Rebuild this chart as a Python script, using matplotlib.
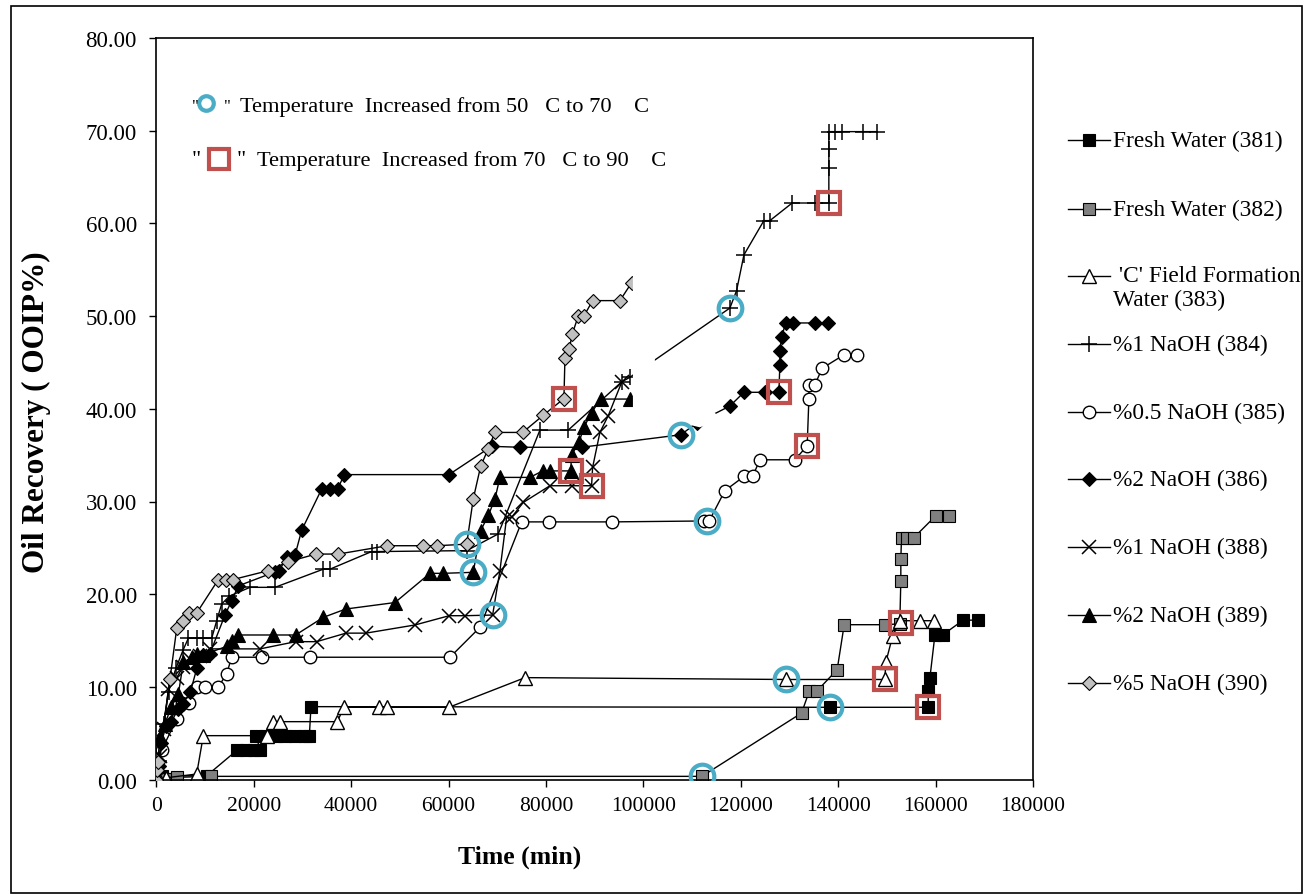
import matplotlib
matplotlib.use("Agg")
import matplotlib.pyplot as plt
from matplotlib.lines import Line2D
from matplotlib.patches import Rectangle, Polygon

plt.rcParams['font.family'] = ['Liberation Serif', 'DejaVu Serif']

# ---------------- data (time in min, recovery in % OOIP) ----------------
t381 = [0, 1090, 10330, 16600, 18300, 20100, 21300, 20500, 22500, 24500, 26500, 28500, 30500, 31400,
        31740, 138260, 158470, 158500, 158820, 159860, 161430, 165660, 168610]
r381 = [0, 0.4, 0.42, 3.19, 3.19, 3.19, 3.19, 4.67, 4.67, 4.67, 4.67, 4.67, 4.67, 4.67,
        7.87, 7.8, 7.8, 9.59, 10.93, 15.6, 15.6, 17.2, 17.2]

t382 = [0, 1500, 2800, 4300, 11300, 112000, 132480, 134040, 135560, 139790, 141230, 149580, 152650,
        152860, 152860, 153000, 154030, 155530, 160050, 162720]
r382 = [0, 0.1, 0.05, 0.25, 0.35, 0.35, 7.18, 9.52, 9.52, 11.86, 16.71, 16.71, 16.8,
        21.46, 23.8, 26.1, 26.1, 26.1, 28.47, 28.47]

t383 = [0, 2000, 8270, 9630, 22640, 24000, 25380, 37140, 38510, 45700, 47280, 60070, 75700, 129300,
        149580, 149780, 151160, 152650, 156770, 159700]
r383 = [0, 0.2, 0.6, 4.74, 4.74, 6.25, 6.25, 6.25, 7.8, 7.8, 7.8, 7.8, 11.0, 10.8,
        10.8, 12.65, 15.46, 17.14, 17.14, 17.14]

t384 = [0, 500, 1500, 2500, 4000, 5500, 6550, 8270, 9640, 11350, 12380, 13400, 15000, 19220, 24350,
        34270, 35640, 44200, 45370, 63710, 70190, 78750, 84560, 95530, 97230, 117760, 119130, 120640,
        124740, 125970, 130550, 135210, 138080, 138080, 138080, 138080, 139320, 140690, 145130, 148000]
r384 = [0, 2.0, 6.0, 9.5, 12.0, 14.0, 15.24, 15.24, 15.24, 15.24, 17.14, 18.94, 19.8, 20.74, 20.74,
        22.7, 22.7, 24.6, 24.6, 24.7, 26.5, 37.7, 37.7, 42.9, 43.4, 50.87, 52.74, 56.6,
        60.3, 60.3, 62.2, 62.2, 62.2, 65.94, 68.0, 69.9, 69.9, 69.9, 69.9, 69.9]

t385 = [0, 1100, 4170, 5190, 6760, 8270, 9980, 12710, 14420, 15460, 21620, 31600, 60280, 66440, 75000,
        80600, 93470, 112500, 113500, 116740, 120640, 122420, 123920, 131100, 133630, 133980, 134040,
        135210, 136710, 141220, 143830]
r385 = [0, 3.2, 6.54, 8.3, 8.3, 10.0, 10.0, 10.0, 11.4, 13.2, 13.2, 13.2, 13.2, 16.43, 27.8,
        27.8, 27.8, 27.9, 27.9, 31.17, 32.7, 32.7, 34.5, 34.5, 36.0, 41.06, 42.6,
        42.6, 44.37, 45.84, 45.84]

t386 = [0, 500, 1000, 2000, 3000, 4500, 5500, 7000, 8300, 9600, 11000, 14080, 15460, 16830, 24350,
        25170, 26750, 28460, 29830, 33940, 35640, 37220, 38575, 60070, 68840, 74650, 87310, 107700,
        111000, 117760, 120640, 124950, 127820, 128020, 128020, 128370, 129200, 130760, 135200, 137940]
r386 = [0, 1.5, 4.0, 5.8, 6.2, 7.6, 8.2, 9.5, 12.0, 13.4, 13.6, 17.75, 19.3, 20.9, 22.4,
        22.5, 23.98, 24.2, 26.9, 31.35, 31.35, 31.35, 32.9, 32.9, 35.95, 35.85, 35.85, 37.2,
        38.5, 40.3, 41.78, 41.78, 41.78, 44.72, 46.2, 47.7, 49.26, 49.26, 49.26, 49.26]

t388 = [0, 800, 1500, 2460, 4170, 5500, 7000, 9000, 11000, 21270, 28590, 32910, 38930, 43030, 53090,
        60130, 63360, 69040, 70540, 71920, 72940, 75340, 80810, 85260, 89360, 89570, 91070, 92780, 95530]
r388 = [0, 2.5, 5.5, 9.77, 11.0, 12.2, 13.0, 13.3, 14.1, 14.1, 14.88, 14.88, 15.8, 15.8, 16.68,
        17.68, 17.68, 17.75, 22.54, 28.3, 28.3, 29.9, 31.7, 31.7, 31.7, 33.68, 37.45, 39.25, 42.85]

t389 = [0, 700, 1770, 3000, 4500, 5530, 7240, 8270, 9640, 14430, 15460, 16820, 24000, 28590, 34270,
        38870, 48990, 56170, 58780, 65060, 66580, 68160, 69530, 70540, 76700, 79310, 80810, 85060,
        85260, 86820, 87780, 89360, 91210, 97230]
r389 = [0, 4.6, 6.0, 7.8, 9.2, 12.65, 13.19, 13.55, 13.45, 14.38, 15.0, 15.6, 15.6, 15.6, 17.5,
        18.4, 19.1, 22.25, 22.25, 22.36, 26.86, 28.5, 30.3, 32.6, 32.6, 33.3, 33.3, 33.3,
        35.0, 36.46, 38.0, 39.6, 41.05, 41.05]

t390 = [0, 100, 400, 2790, 4170, 5540, 6760, 8270, 12710, 14280, 15650, 22980, 27080, 32770, 37340,
        47400, 54670, 57670, 63710, 65060, 66580, 68160, 69510, 75210, 79430, 83680, 83890, 84780,
        85390, 86620, 87780, 89570, 95180, 97580]
r390 = [0, 1.0, 1.9, 10.85, 16.3, 17.14, 17.97, 17.97, 21.57, 21.57, 21.57, 22.54, 23.5, 24.33, 24.33,
        25.23, 25.23, 25.23, 25.4, 30.27, 33.8, 35.7, 37.45, 37.45, 39.3, 41.1, 45.44, 46.44,
        48.06, 50.0, 50.0, 51.67, 51.67, 53.6]

# temperature step markers
circ_t = [112000, 138260, 129300, 117760, 113000, 107700, 69040, 65060, 63710]   # 50 -> 70 C
circ_v = [0.35, 7.8, 10.8, 50.87, 27.9, 37.2, 17.75, 22.36, 25.4]
sq_t = [158470, 152860, 149580, 138080, 133630, 127820, 89360, 85060, 83680]     # 70 -> 90 C
sq_v = [7.8, 16.9, 10.8, 62.2, 36.0, 41.78, 31.7, 33.3, 41.1]

series_names = ['381', '382', '383', '384', '385', '386', '388', '389', '390']
legend_labels = ['Fresh Water (381)', 'Fresh Water (382)', " 'C' Field Formation\nWater (383)",
                 '%1 NaOH (384)', '%0.5 NaOH (385)', '%2 NaOH (386)', '%1 NaOH (388)',
                 '%2 NaOH (389)', '%5 NaOH (390)']
series_data = {'381': (t381, r381), '382': (t382, r382), '383': (t383, r383), '384': (t384, r384),
               '385': (t385, r385), '386': (t386, r386), '388': (t388, r388), '389': (t389, r389),
               '390': (t390, r390)}

xticks = [0, 20000, 40000, 60000, 80000, 100000, 120000, 140000, 160000, 180000]
yticks = [0, 10, 20, 30, 40, 50, 60, 70, 80]

# ---------------- styles ----------------
styles = {
    '381': dict(marker='s', mfc='black', mec='black', ms=8.5, mew=0.8),
    '382': dict(marker='s', mfc='#808080', mec='black', ms=8.5, mew=0.8),
    '383': dict(marker='^', mfc='white', mec='black', ms=9.5, mew=1.0),
    '384': dict(marker='+', mfc='black', mec='black', ms=12, mew=1.1),
    '385': dict(marker='o', mfc='white', mec='black', ms=9, mew=1.0),
    '386': dict(marker='D', mfc='black', mec='black', ms=6.8, mew=0.8),
    '388': dict(marker='x', mfc='black', mec='black', ms=9.5, mew=1.1),
    '389': dict(marker='^', mfc='black', mec='black', ms=9.5, mew=0.8),
    '390': dict(marker='D', mfc='#C0C0C0', mec='black', ms=6.8, mew=0.8),
}

W, H = 1306, 895
fig = plt.figure(figsize=(W / 100, H / 100), dpi=100)
fig.patch.set_facecolor('white')

ax_l, ax_r, ax_t, ax_b = 156.4, 1033, 39, 780.6
ax = fig.add_axes([ax_l / W, 1 - ax_b / H, (ax_r - ax_l) / W, (ax_b - ax_t) / H])

for i, name in enumerate(series_names):
    t, r = series_data[name]
    ax.plot(t, r, color='black', lw=1.0, zorder=2 + i * 0.1, **styles[name])

# occluded area (white box in the original chart)
mask = Polygon([(97850, 58.3), (97850, 39.76), (111600, 38.0), (116120, 38.9),
                (102360, 45.1), (102360, 58.3)], closed=True, facecolor='white',
               edgecolor='none', zorder=5)
ax.add_patch(mask)

ax.plot(circ_t, circ_v, linestyle='none', marker='o', ms=17, mfc='none', mec='#4BACC6', mew=3.0, zorder=10)
ax.plot(sq_t, sq_v, linestyle='none', marker='s', ms=15.5, mfc='none', mec='#C0504D', mew=3.0, zorder=10)

ax.set_xlim(0, 180000)
ax.set_ylim(0, 80)
ax.set_xticks(xticks)
ax.set_xticklabels([str(v) for v in xticks])
ax.set_yticks(yticks)
ax.set_yticklabels(['%.2f' % v for v in yticks])
ax.tick_params(axis='both', direction='out', length=5, width=1.0, colors='black')
ax.tick_params(axis='y', labelsize=16.5, pad=9)
ax.tick_params(axis='x', labelsize=15.5, pad=7)
for sp in ax.spines.values():
    sp.set_linewidth(1.2)
    sp.set_color('black')

fig.text(520 / W, 1 - 857 / H, 'Time (min)', ha='center', va='center', fontsize=18.5, fontweight='bold')
fig.text(36 / W, 1 - 412 / H, 'Oil Recovery ( OOIP%)', ha='center', va='center', rotation=90,
         fontsize=22.5, fontweight='bold')

# annotation lines
fs_ann = 16.2
fig.text(192 / W, 1 - 107 / H, '"', ha='left', va='center', fontsize=12)
fig.add_artist(Line2D([206 / W], [1 - 104 / H], marker='o', ms=10.5, mfc='none', mec='#4BACC6', mew=3.0,
                      linestyle='none', transform=fig.transFigure))
fig.text(224 / W, 1 - 107 / H, '"', ha='left', va='center', fontsize=12)
fig.text(240 / W, 1 - 107 / H, 'Temperature  Increased from 50   C to 70    C', ha='left', va='center',
         fontsize=fs_ann)
fig.text(192 / W, 1 - 161 / H, '"', ha='left', va='center', fontsize=fs_ann)
fig.add_artist(Line2D([218.5 / W], [1 - 160 / H], marker='s', ms=14, mfc='none', mec='#C0504D', mew=3.0,
                      linestyle='none', transform=fig.transFigure))
fig.text(237 / W, 1 - 161 / H, '"', ha='left', va='center', fontsize=fs_ann)
fig.text(257 / W, 1 - 161 / H, 'Temperature  Increased from 70   C to 90    C', ha='left', va='center',
         fontsize=fs_ann)

# legend (manual, right side)
leg_y = [141, 210, 277, 345, 413, 480, 548, 616, 684]
for name, lab, yy in zip(series_names, legend_labels, leg_y):
    yf = 1 - yy / H
    fig.add_artist(Line2D([1068 / W, 1110 / W], [yf, yf], color='black', lw=1.0,
                          transform=fig.transFigure))
    fig.add_artist(Line2D([1089 / W], [yf], linestyle='none', transform=fig.transFigure, **styles[name]))
    lines = lab.split('\n')
    for k, ln in enumerate(lines):
        fig.text(1113 / W, 1 - (yy + 23 * k) / H, ln, ha='left', va='center', fontsize=16.8)

# chart outer border
fig.add_artist(Rectangle((11 / W, 1 / H), (1302 - 11) / W, (888 - 1) / H, fill=False, edgecolor='black',
                         lw=1.2, transform=fig.transFigure))

fig.savefig('out.png', dpi=100, facecolor='white')
